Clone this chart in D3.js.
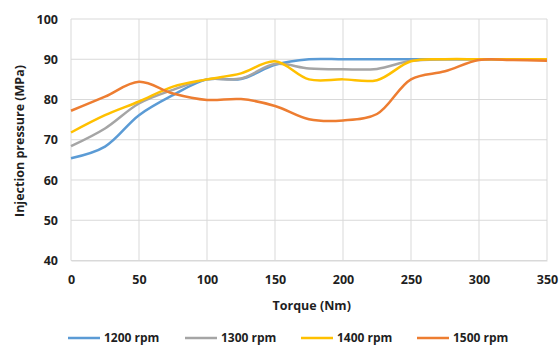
<!DOCTYPE html>
<html>
<head>
<meta charset="utf-8">
<script src="https://cdn.jsdelivr.net/npm/d3@7"></script>
<style>
  body { margin: 0; background: #fff; }
  text { font-family: "Open Sans", "Liberation Sans", sans-serif; font-weight: bold; fill: #1f1f1f; }
</style>
</head>
<body>
<div id="viz"></div>
<script>
// torque (Nm) sample points
var torque = [0, 25, 50, 75, 100, 125, 150, 175, 200, 225, 250, 275, 300, 325, 350];

var rpm1200 = [65.4, 68.3, 76.1, 81.1, 85, 85.1, 88.6, 90, 90, 90, 90, 90, 90, 90, 90];
var rpm1300 = [68.4, 72.8, 79, 82.4, 85, 85.2, 88.8, 87.7, 87.5, 87.6, 89.6, 90, 90, 90, 90];
var rpm1400 = [71.8, 76.1, 79.5, 83.2, 85, 86.5, 89.5, 85, 85, 84.8, 89.5, 90, 90, 90, 90];
var rpm1500 = [77.2, 80.7, 84.4, 81.5, 79.9, 80.1, 78.4, 75.1, 74.8, 76.4, 85, 87, 89.8, 89.8, 89.6];

var seriesNames = ['1200 rpm', '1300 rpm', '1400 rpm', '1500 rpm'];
var seriesValues = [rpm1200, rpm1300, rpm1400, rpm1500];
var colors = ['#5B9BD5', '#A5A5A5', '#FFC000', '#ED7D31'];

var xTicks = [0, 50, 100, 150, 200, 250, 300, 350];
var yTicks = [40, 50, 60, 70, 80, 90, 100];

var width = 559, height = 347,
    margin = { top: 19, right: 12, bottom: 86.5, left: 71 },
    w = width - margin.left - margin.right,
    h = height - margin.top - margin.bottom;

var svg = d3.select('#viz').append('svg')
  .attr('width', width)
  .attr('height', height);

var xScale = d3.scaleLinear().domain([0, 350]).range([0, 476]);
var yScale = d3.scaleLinear().domain([40, 100]).range([h, 0]);

var plot = svg.append('g')
  .attr('transform', 'translate(' + margin.left + ',' + margin.top + ')');

// grid
plot.append('g')
  .selectAll('line').data(yTicks)
  .enter().append('line')
    .attr('x1', 0).attr('x2', xScale(350))
    .attr('y1', function(d) { return yScale(d); })
    .attr('y2', function(d) { return yScale(d); })
    .attr('stroke', '#d9d9d9').attr('stroke-width', 1);

plot.append('g')
  .selectAll('line').data(xTicks)
  .enter().append('line')
    .attr('x1', function(d) { return xScale(d); })
    .attr('x2', function(d) { return xScale(d); })
    .attr('y1', 0).attr('y2', h)
    .attr('stroke', '#d9d9d9').attr('stroke-width', 1);

// axes (labels only)
var xAxis = plot.append('g')
  .attr('transform', 'translate(0,' + h + ')')
  .call(d3.axisBottom(xScale).tickValues(xTicks).tickSize(0).tickPadding(15));
xAxis.select('.domain').attr('stroke', '#d9d9d9');
xAxis.selectAll('text').style('font-size', '12.5px');

var yAxis = plot.append('g')
  .call(d3.axisLeft(yScale).tickValues(yTicks).tickSize(0).tickPadding(13));
yAxis.select('.domain').remove();
yAxis.selectAll('text').style('font-size', '12.5px');

// lines
var line = d3.line()
  .x(function(d, i) { return xScale(torque[i]); })
  .y(function(d) { return yScale(d); })
  .curve(d3.curveCatmullRom.alpha(0.5));

plot.selectAll('.series').data(seriesValues)
  .enter().append('path')
    .attr('class', 'series')
    .attr('fill', 'none')
    .attr('stroke', function(d, i) { return colors[i]; })
    .attr('stroke-width', 2.5)
    .attr('d', line);

// titles
svg.append('text')
  .attr('x', margin.left + xScale(177))
  .attr('y', 310)
  .attr('text-anchor', 'middle')
  .style('font-size', '12.5px')
  .text('Torque (Nm)');

svg.append('text')
  .attr('transform', 'translate(24,141) rotate(-90)')
  .attr('text-anchor', 'middle')
  .style('font-size', '12.5px')
  .text('Injection pressure (MPa)');

// legend
var legendX = [68, 185, 301, 417];
var legend = svg.selectAll('.legend').data(seriesNames)
  .enter().append('g')
    .attr('class', 'legend')
    .attr('transform', function(d, i) { return 'translate(' + legendX[i] + ',338)'; });

legend.append('line')
  .attr('x1', 0).attr('x2', 32)
  .attr('stroke', function(d, i) { return colors[i]; })
  .attr('stroke-width', 2.5);

legend.append('text')
  .attr('x', 36)
  .attr('dy', '0.35em')
  .style('font-size', '12px')
  .text(function(d) { return d; });
</script>
</body>
</html>
